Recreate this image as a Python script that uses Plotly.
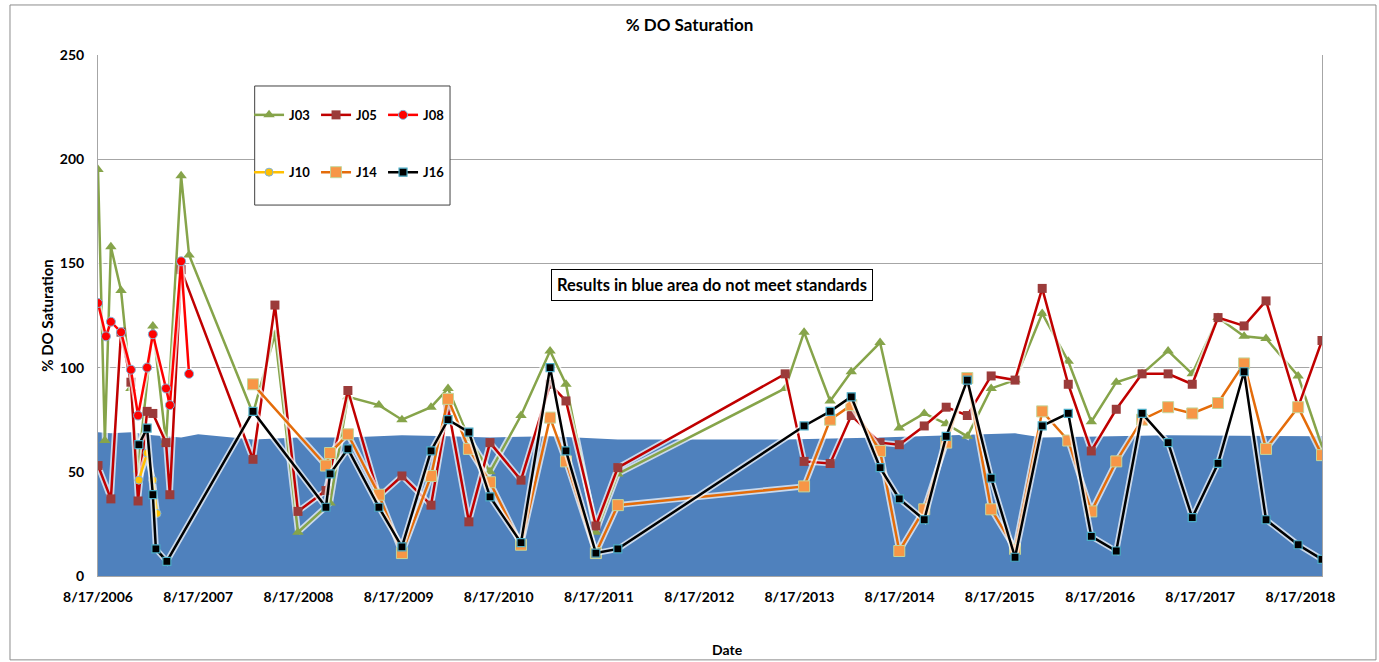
import plotly.graph_objects as go

# ---------------- data ----------------
std_dates = ["2006-08-17", "2006-10-03", "2006-12-15", "2007-03-05", "2007-06-16", "2007-08-17",
             "2008-03-04", "2008-08-15", "2009-02-13", "2009-08-29", "2010-02-13", "2010-07-16",
             "2011-02-20", "2011-08-06", "2011-10-25", "2013-06-26", "2014-06-07", "2015-10-12",
             "2016-01-19", "2017-04-22", "2018-11-04"]
std_values = [69, 68.5, 69, 67.5, 66.5, 68, 65.5, 66.5, 66.5, 67.5, 67, 66.5,
              67, 66, 65.5, 65.5, 66.5, 68.5, 66.5, 67.5, 67]

j03_dates = ["2006-08-17", "2006-09-11", "2006-10-03", "2006-11-09", "2006-12-15", "2007-01-10",
             "2007-03-05", "2007-04-22", "2007-06-16", "2007-07-15", "2008-03-04", "2008-05-23",
             "2008-08-15", "2008-12-10", "2009-02-13", "2009-06-06", "2009-08-29", "2009-12-13",
             "2010-02-13", "2010-04-30", "2010-07-16", "2010-11-06", "2011-02-20", "2011-04-19",
             "2011-08-06", "2011-10-25", "2013-06-26", "2013-09-03", "2013-12-07", "2014-02-22",
             "2014-06-07", "2014-08-16", "2014-11-15", "2015-02-03", "2015-04-21", "2015-07-17",
             "2015-10-12", "2016-01-19", "2016-04-23", "2016-07-16", "2016-10-15", "2017-01-17",
             "2017-04-22", "2017-07-19", "2017-10-21", "2018-01-24", "2018-04-14", "2018-08-09",
             "2018-11-04"]
j03_values = [195, 65, 158, 137, 90, 51, 120, 64, 192, 154, 78, 116,
              21, 35, 86, 82, 75, 81, 90, 66, 50, 77, 108, 92,
              21, 49, 90, 117, 84, 98, 112, 71, 78, 73, 67, 90,
              94, 126, 103, 74, 93, 97, 108, 97, 124, 115, 114, 96, 62]

j05_dates = ["2006-08-17", "2006-10-03", "2006-11-09", "2006-12-15", "2007-01-10", "2007-02-12",
             "2007-03-05", "2007-04-22", "2007-05-06", "2007-06-16", "2008-03-04", "2008-05-23",
             "2008-08-15", "2008-11-25", "2009-02-13", "2009-06-06", "2009-08-29", "2009-12-13",
             "2010-02-13", "2010-04-30", "2010-07-16", "2010-11-06", "2011-02-20", "2011-04-19",
             "2011-08-06", "2011-10-25", "2013-06-26", "2013-09-03", "2013-12-07", "2014-02-22",
             "2014-06-07", "2014-08-16", "2014-11-15", "2015-02-03", "2015-04-21", "2015-07-17",
             "2015-10-12", "2016-01-19", "2016-04-23", "2016-07-16", "2016-10-15", "2017-01-17",
             "2017-04-22", "2017-07-19", "2017-10-21", "2018-01-24", "2018-04-14", "2018-08-09",
             "2018-11-04"]
j05_values = [53, 37, 117, 93, 36, 79, 78, 64, 39, 147, 56, 130,
              31, 41, 89, 38, 48, 34, 81, 26, 64, 46, 92, 84,
              24, 52, 97, 55, 54, 77, 64, 63, 72, 81, 77, 96,
              94, 138, 92, 60, 80, 97, 97, 92, 124, 120, 132, 81, 113]

j08_dates = ["2006-08-17", "2006-09-15", "2006-10-03", "2006-11-09", "2006-12-15", "2007-01-10",
             "2007-02-12", "2007-03-05", "2007-04-22", "2007-05-06", "2007-06-16", "2007-07-15"]
j08_values = [131, 115, 122, 117, 99, 77, 100, 116, 90, 82, 151, 97]

j10_dates = ["2007-01-13", "2007-02-12", "2007-03-05", "2007-03-20"]
j10_values = [46, 59, 46, 30]

j14_dates = ["2008-03-04", "2008-11-25", "2008-12-10", "2009-02-13", "2009-06-06", "2009-08-29",
             "2009-12-13", "2010-02-13", "2010-04-30", "2010-07-16", "2010-11-06", "2011-02-20",
             "2011-04-19", "2011-08-06", "2011-10-25", "2013-09-03", "2013-12-07", "2014-02-22",
             "2014-06-07", "2014-08-16", "2014-11-15", "2015-02-03", "2015-04-21", "2015-07-17",
             "2015-10-12", "2016-01-19", "2016-04-23", "2016-07-16", "2016-10-15", "2017-01-17",
             "2017-04-22", "2017-07-19", "2017-10-21", "2018-01-24", "2018-04-14", "2018-08-09",
             "2018-11-04"]
j14_values = [92, 53, 59, 68, 39, 11, 48, 85, 61, 45, 15, 76,
              55, 11, 34, 43, 75, 82, 60, 12, 32, 64, 95, 32,
              13, 79, 65, 31, 55, 75, 81, 78, 83, 102, 61, 81, 58]

j16_dates = ["2007-01-13", "2007-02-12", "2007-03-05", "2007-03-16", "2007-04-25", "2008-03-04",
             "2008-11-25", "2008-12-10", "2009-02-13", "2009-06-06", "2009-08-29", "2009-12-13",
             "2010-02-13", "2010-04-30", "2010-07-16", "2010-11-06", "2011-02-20", "2011-04-19",
             "2011-08-06", "2011-10-25", "2013-09-03", "2013-12-07", "2014-02-22", "2014-06-07",
             "2014-08-16", "2014-11-15", "2015-02-03", "2015-04-21", "2015-07-17", "2015-10-12",
             "2016-01-19", "2016-04-23", "2016-07-16", "2016-10-15", "2017-01-17", "2017-04-22",
             "2017-07-19", "2017-10-21", "2018-01-24", "2018-04-14", "2018-08-09", "2018-11-04"]
j16_values = [63, 71, 39, 13, 7, 79, 33, 49, 61, 33, 14, 60,
              75, 69, 38, 16, 100, 60, 11, 13, 72, 79, 86, 52,
              37, 27, 67, 94, 47, 9, 72, 78, 19, 12, 78, 64,
              28, 54, 98, 27, 15, 8]

tick_dates = ["2006-08-17", "2007-08-17", "2008-08-17", "2009-08-17", "2010-08-17", "2011-08-17",
              "2012-08-17", "2013-08-17", "2014-08-17", "2015-08-17", "2016-08-17", "2017-08-17",
              "2018-08-17"]
tick_labels = ["8/17/2006", "8/17/2007", "8/17/2008", "8/17/2009", "8/17/2010", "8/17/2011",
               "8/17/2012", "8/17/2013", "8/17/2014", "8/17/2015", "8/17/2016", "8/17/2017",
               "8/17/2018"]
y_ticks = [0, 50, 100, 150, 200, 250]

FONT = "Lato, 'Open Sans', sans-serif"

fig = go.Figure()

fig.add_trace(go.Scatter(x=std_dates, y=std_values, mode="lines", fill="tozeroy",
                         line=dict(color="#4F81BD", width=0), fillcolor="#4F81BD",
                         showlegend=False, hoverinfo="skip", name="Standard"))

series = [
    ("J03", j03_dates, j03_values, "#86A44A", dict(symbol="triangle-up", size=10, color="#86A44A",
                                                   line=dict(width=0)), "legend"),
    ("J05", j05_dates, j05_values, "#C00000", dict(symbol="square", size=9, color="#9B3B3A",
                                                   line=dict(width=0)), "legend"),
    ("J08", j08_dates, j08_values, "#FF0000", dict(symbol="circle", size=9, color="#FF0000",
                                                   line=dict(width=1, color="#7FB2D8")), "legend"),
    ("J10", j10_dates, j10_values, "#FFC000", dict(symbol="circle", size=8, color="#FFC000",
                                                   line=dict(width=1, color="#7FB2D8")), "legend2"),
    ("J14", j14_dates, j14_values, "#E46C0A", dict(symbol="square", size=11, color="#F79646",
                                                   line=dict(width=1, color="#C3D69B")), "legend2"),
    ("J16", j16_dates, j16_values, "#000000", dict(symbol="square", size=8, color="#000000",
                                                   line=dict(width=1.2, color="#4BACC6")), "legend2"),
]

for name, xs, ys, lc, mk, lg in series:
    fig.add_trace(go.Scatter(x=xs, y=ys, mode="lines", line=dict(color="rgba(255,255,255,0.7)", width=6),
                             showlegend=False, hoverinfo="skip"))
    fig.add_trace(go.Scatter(x=xs, y=ys, mode="lines+markers", name=name,
                             line=dict(color=lc, width=2.5), marker=mk, legend=lg))

fig.update_layout(
    width=1379, height=662,
    margin=dict(l=98, r=57, t=55, b=86),
    paper_bgcolor="white", plot_bgcolor="white",
    font=dict(family=FONT, size=13, color="#000000", weight="bold"),
    title=dict(text="% DO Saturation", x=0.5, xanchor="center", y=0.962, yanchor="middle",
               font=dict(family=FONT, size=17, weight="bold")),
    xaxis=dict(type="date", range=["2006-08-17", "2018-11-04"], tickmode="array",
               tickvals=tick_dates, ticktext=tick_labels, showgrid=False, showline=True,
               linecolor="#A6A6A6", linewidth=1, ticks="", zeroline=False, ticklabelstandoff=8,
               tickfont=dict(family=FONT, size=14, weight="bold")),
    yaxis=dict(range=[0, 250], tickmode="array", tickvals=y_ticks, showgrid=True,
               gridcolor="#A6A6A6", gridwidth=1, showline=True, linecolor="#A6A6A6", mirror=True,
               zeroline=False, ticks="", ticklen=0, ticklabelstandoff=10,
               title=dict(text="% DO Saturation", standoff=2, font=dict(family=FONT, size=15, weight="bold")),
               tickfont=dict(family=FONT, size=14, weight="bold")),
    legend=dict(orientation="h", x=0.1234, y=0.885, xanchor="left", yanchor="middle",
                bgcolor="rgba(0,0,0,0)", borderwidth=0, entrywidth=22, entrywidthmode="pixels",
                font=dict(family=FONT, size=13, weight="bold")),
    legend2=dict(orientation="h", x=0.1234, y=0.775, xanchor="left", yanchor="middle",
                 bgcolor="rgba(0,0,0,0)", borderwidth=0, entrywidth=22, entrywidthmode="pixels",
                 font=dict(family=FONT, size=13, weight="bold")),
    showlegend=True,
)

fig.add_shape(type="rect", xref="paper", yref="paper", x0=0.128, x1=0.2876, y0=0.712, y1=0.9405,
              line=dict(color="#404040", width=1), fillcolor="white", layer="above")
fig.add_shape(type="rect", xref="paper", yref="paper", x0=-0.0719, x1=1.0441, y0=-0.161, y1=1.096,
              line=dict(color="#8C8C8C", width=1), fillcolor="rgba(0,0,0,0)", layer="below")

fig.add_annotation(text="Results in blue area do not meet standards", xref="paper", yref="paper",
                   x=0.502, y=0.559, xanchor="center", yanchor="middle", showarrow=False,
                   bgcolor="white", bordercolor="#000000", borderwidth=1, borderpad=5,
                   font=dict(family=FONT, size=16.5, weight="bold"))
fig.add_annotation(text="Date", xref="paper", yref="paper", x=0.514, y=-0.142,
                   xanchor="center", yanchor="middle", showarrow=False,
                   font=dict(family=FONT, size=14, weight="bold"))

fig.write_html("out.html", config={"displayModeBar": False},
               post_script="document.body.style.margin='0px';document.body.style.overflow='hidden';")
